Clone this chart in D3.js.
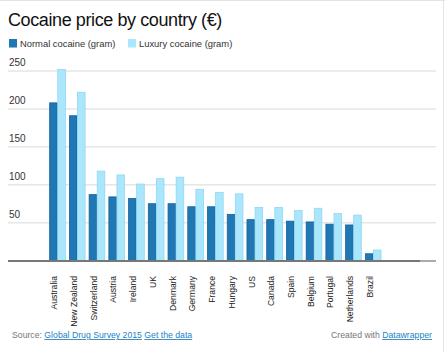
<!DOCTYPE html>
<html>
<head>
<meta charset="utf-8">
<script src="https://cdn.jsdelivr.net/npm/d3@7"></script>
<style>
	body { margin: 0; background: #fff; font-family: "Liberation Sans", Arial, sans-serif; }
	.grid line { stroke: #e6e6e6; stroke-width: 1.5; }
	.link { fill: #1d81c4; text-decoration: underline; }
</style>
</head>
<body>
<div id="chart-area"></div>
<script>
// Data
let countries = ["Australia", "New Zealand", "Switzerland", "Austria", "Ireland", "UK", "Denmark",
	"Germany", "France", "Hungary", "US", "Canada", "Spain", "Belgium", "Portugal", "Netherlands", "Brazil"];
let normalPrice = [208, 191, 87, 84, 82, 75, 75, 71, 71, 61, 54, 54, 52, 51, 48, 47, 9];
let luxuryPrice = [252, 222, 118, 113, 101, 108, 110, 94, 90, 88, 70, 70, 66, 69, 62, 60, 14];
let seriesNames = ["Normal cocaine (gram)", "Luxury cocaine (gram)"];
let yTicks = [50, 100, 150, 200, 250];

let colors = ["#1f77b4", "#aae7fc"];
let strokes = ["#18609a", "#8fd7f2"];

let W = 445, H = 352;
let svg = d3.select("#chart-area")
	.append("svg")
	.attr("width", W)
	.attr("height", H);

// Frame edges
svg.append("line").attr("x1", 0).attr("x2", W).attr("y1", 0.5).attr("y2", 0.5)
	.attr("stroke", "#e4e4e4");
svg.append("line").attr("x1", 443.5).attr("x2", 443.5).attr("y1", 0).attr("y2", H)
	.attr("stroke", "#e4e4e4");

// Title
svg.append("text")
	.attr("x", 8).attr("y", 26)
	.attr("font-size", 18)
	.attr("letter-spacing", -0.4)
	.attr("fill", "#111")
	.text("Cocaine price by country (€)");

// Legend
let legend = svg.append("g").attr("transform", "translate(9,39)");
let legendX = [0, 119];
seriesNames.forEach((name, i) => {
	legend.append("rect")
		.attr("x", legendX[i]).attr("y", 0)
		.attr("width", 8).attr("height", 8.5)
		.attr("fill", colors[i]);
	legend.append("text")
		.attr("x", legendX[i] + 11).attr("y", 8)
		.attr("font-size", 9.4)
		.attr("fill", "#333")
		.text(name);
});

// Scales
let y = d3.scaleLinear()
	.domain([0, 250])
	.range([260.6, 71]);

let x = d3.scaleBand()
	.domain(countries)
	.range([47.4, 47.4 + 19.73 * countries.length])
	.paddingInner(0.18)
	.paddingOuter(0.09);

let xs = d3.scaleBand()
	.domain([0, 1])
	.range([0, x.bandwidth()]);

// Gridlines
let grid = svg.append("g").attr("class", "grid");
grid.selectAll("line")
	.data(yTicks)
	.enter()
	.append("line")
	.attr("x1", 8).attr("x2", 436)
	.attr("y1", d => y(d)).attr("y2", d => y(d));

grid.selectAll("text")
	.data(yTicks)
	.enter()
	.append("text")
	.attr("x", 9)
	.attr("y", d => y(d) - 5)
	.attr("font-size", 10)
	.attr("fill", "#333")
	.text(d => d);

// Bars
[normalPrice, luxuryPrice].forEach((values, s) => {
	svg.append("g")
		.selectAll("rect")
		.data(values)
		.enter()
		.append("rect")
		.attr("x", (d, i) => x(countries[i]) + xs(s) + 0.5)
		.attr("y", d => y(d))
		.attr("width", xs.bandwidth() - 0.5)
		.attr("height", d => y(0) - y(d))
		.attr("fill", colors[s])
		.attr("stroke", strokes[s])
		.attr("stroke-width", 0.8);
});

// Baseline
svg.append("line")
	.attr("x1", 8).attr("x2", 436)
	.attr("y1", y(0) + 0.5).attr("y2", y(0) + 0.5)
	.attr("stroke", "#aaa").attr("stroke-width", 2);
svg.append("line")
	.attr("x1", 8).attr("x2", 420)
	.attr("y1", y(0) + 0.5).attr("y2", y(0) + 0.5)
	.attr("stroke", "#777").attr("stroke-width", 2);

// Country labels
svg.append("g")
	.selectAll("text")
	.data(countries)
	.enter()
	.append("text")
	.attr("transform", d => "translate(" + (x(d) + x.bandwidth() / 2) + ",276) rotate(-90)")
	.attr("text-anchor", "end")
	.attr("font-size", 8.6)
	.attr("fill", "#222")
	.text(d => d);

// Footer
let source = svg.append("text")
	.attr("x", 12).attr("y", 338)
	.attr("font-size", 8.7);
source.append("tspan").attr("fill", "#777").text("Source: ");
source.append("tspan").attr("class", "link").text("Global Drug Survey 2015");
source.append("tspan").attr("fill", "#777").text(" ");
source.append("tspan").attr("class", "link").text("Get the data");

let credit = svg.append("text")
	.attr("x", 432).attr("y", 338)
	.attr("text-anchor", "end")
	.attr("font-size", 8.7);
credit.append("tspan").attr("fill", "#777").text("Created with ");
credit.append("tspan").attr("class", "link").text("Datawrapper");
</script>
</body>
</html>
